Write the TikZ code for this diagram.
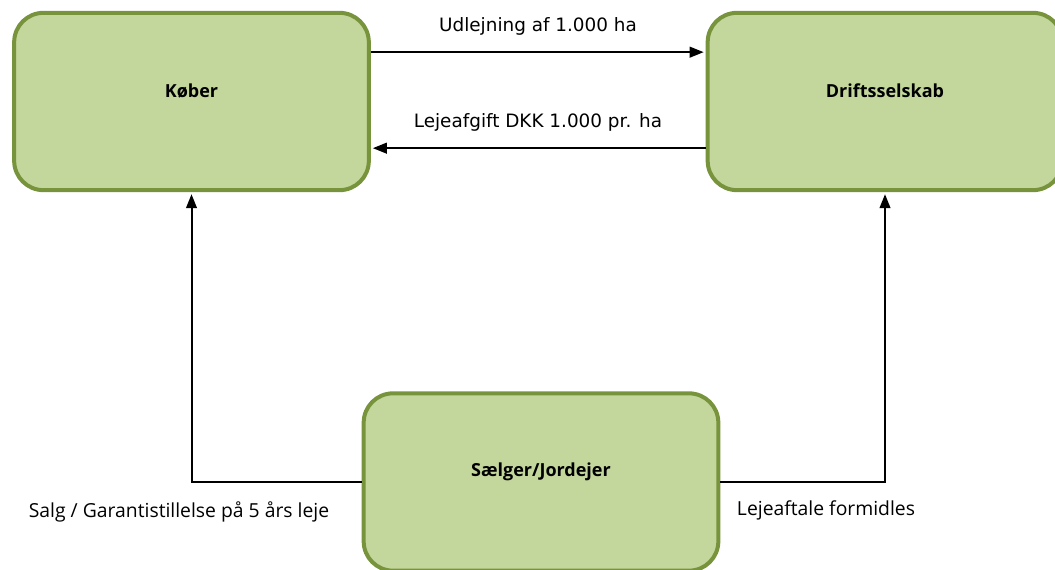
\documentclass[tikz,border=0pt]{standalone}
\usepackage{fontspec}
\setmainfont{Open Sans}
\newfontfamily\flowfont{DejaVu Sans}
\usetikzlibrary{arrows.meta}

\definecolor{boxfill}{HTML}{C3D69B}
\definecolor{boxline}{HTML}{77933C}

\begin{document}
\begin{tikzpicture}[
  x=0.75pt,
  y=-0.75pt,
  party/.style={draw=boxline,line width=3pt,fill=boxfill,rounded corners=22pt,
    minimum width=266pt,minimum height=133pt},
  partyname/.style={font=\bfseries\fontsize{13.5}{15}\selectfont,text=black},
  flow/.style={line width=1.5pt,shorten >=1.5pt,-{Triangle[length=10.5pt,width=8pt]}},
  flowtext/.style={font=\flowfont\fontsize{13.8}{15}\selectfont,text=black},
  sidetext/.style={font=\fontsize{14.5}{16}\selectfont,text=black}
]
\useasboundingbox (0,0) rectangle (1055,570);

% parties
\node[party] (koeber) at (191.5,101.5) {};
\node[party] (drift) at (885,101.5) {};
\node[party] (saelger) at (541,482) {};
\node[partyname] (koebername) at ([yshift=8pt]koeber.center) {Køber};
\node[partyname] (driftname) at ([yshift=8pt]drift.center) {Driftsselskab};
\node[partyname] (saelgername) at ([yshift=8pt]saelger.center) {Sælger/Jordejer};

% flows
\draw[flow] ([yshift=37pt]koeber.east) -- ([yshift=37pt]drift.west);
\draw[flow] ([yshift=-35pt]drift.west) -- ([yshift=-35pt]koeber.east);
\draw[flow] (saelger.west) -| (koeber.south);
\draw[flow] (saelger.east) -| (drift.south);

\node[flowtext] (udlejning) at (538,26) {Udlejning af 1.000 ha};
\node[flowtext] (lejeafgift) at (538,122) {Lejeafgift DKK 1.000 pr. ha};
\node[sidetext] (salg) at (179,512) {Salg / Garantistillelse på 5 års leje};
\node[sidetext] (lejeaftale) at (826,510) {Lejeaftale formidles};
\end{tikzpicture}
\end{document}
